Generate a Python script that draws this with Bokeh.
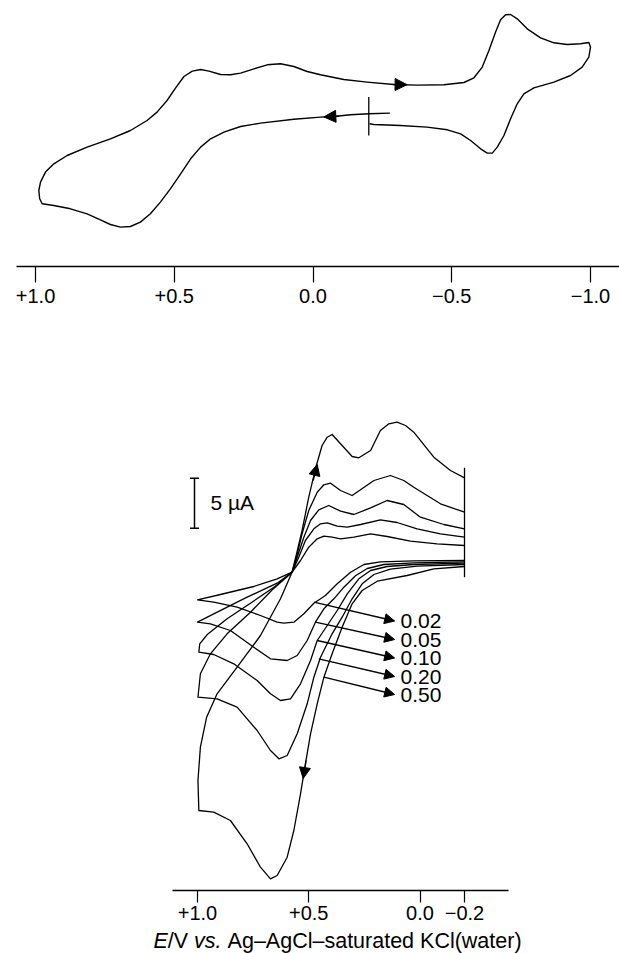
from bokeh.plotting import figure
from bokeh.models import Range1d, FixedTicker, Arrow, NormalHead, Label
from bokeh.layouts import column
from bokeh.embed import file_html
from bokeh.resources import INLINE

FONT = "Liberation Sans"

# ---------------- top voltammogram: potential (V) and current (arb. units)
TOP_E = [-0.277, -0.201, -0.135, -0.075, -0.027, 0.069, 0.189, 0.261, 0.321, 0.369,
         0.405, 0.441, 0.477, 0.514, 0.550, 0.586, 0.622, 0.658, 0.694, 0.730,
         0.766, 0.814, 0.874, 0.934, 0.976, 0.985, 0.988, 0.982, 0.964, 0.934,
         0.886, 0.814, 0.730, 0.658, 0.598, 0.562, 0.526, 0.495, 0.465, 0.435,
         0.405, 0.375, 0.333, 0.297, 0.261, 0.213, 0.165, 0.117, 0.069, 0.021,
         -0.027, -0.111, -0.195, -0.291, -0.375, -0.472, -0.544, -0.580, -0.610, -0.634,
         -0.658, -0.676, -0.694, -0.712, -0.736, -0.772, -0.820, -0.868, -0.916, -0.964,
         -0.994, -1.000, -0.994, -0.970, -0.928, -0.868, -0.796, -0.760, -0.736, -0.712,
         -0.688, -0.664, -0.646, -0.628, -0.604, -0.568, -0.532, -0.484, -0.411, -0.315,
         -0.219, -0.204]
TOP_I = [2.07, 2.00, 1.90, 1.73, 1.67, 1.45, 1.07, 0.73, 0.17, -0.50,
         -1.33, -2.50, -4.00, -5.50, -6.83, -8.00, -8.83, -9.27, -9.33, -9.07,
         -8.60, -8.00, -7.50, -7.17, -7.00, -6.50, -5.67, -4.83, -3.83, -3.00,
         -2.17, -1.33, -0.50, 0.33, 1.33, 2.17, 3.33, 4.60, 5.73, 6.27,
         6.43, 6.27, 5.93, 5.90, 6.07, 6.50, 6.90, 7.00, 6.73, 6.23,
         5.90, 5.43, 5.17, 4.93, 4.87, 4.90, 5.13, 5.60, 6.67, 8.33,
         10.17, 11.40, 11.90, 11.93, 11.50, 10.50, 9.60, 9.10, 8.93, 9.00,
         9.13, 8.67, 7.67, 6.67, 5.83, 5.17, 4.60, 4.00, 3.00, 1.50,
         -0.17, -1.33, -1.93, -1.93, -1.50, -0.67, 0.00, 0.40, 0.67, 0.83,
         0.93, 1.00]
TOP_TICKS = [1.0, 0.5, 0.0, -0.5, -1.0]
TOP_TICK_LABELS = ["+1.0", "+0.5", "0.0", "\u22120.5", "\u22121.0"]
TOP_START_E = -0.201

# ---------------- bottom voltammograms at several scan rates (V s-1), current in uA
SCAN_RATES = ["0.02", "0.05", "0.10", "0.20", "0.50"]
E_002 = [-0.200, 0.028, 0.178, 0.252, 0.312, 0.372, 0.425, 0.477, 0.522, 0.567,
         0.612, 0.642, 0.717, 0.822, 0.927, 1.000, 0.897, 0.747, 0.642, 0.575,
         0.537, 0.500, 0.462, 0.432, 0.395, 0.357, 0.297, 0.222, 0.148, 0.043,
         -0.077, -0.200]
I_002 = [0.30, 0.27, 0.17, -0.10, -0.87, -2.03, -3.20, -3.97, -5.03, -5.87,
         -5.97, -5.87, -5.20, -4.37, -3.87, -3.63, -3.10, -2.30, -1.53, -0.87,
         0.30, 1.63, 2.47, 2.73, 2.63, 2.47, 2.63, 2.97, 2.70, 2.23,
         1.97, 1.80]
E_005 = [-0.200, 0.028, 0.163, 0.237, 0.290, 0.342, 0.387, 0.432, 0.470, 0.507,
         0.552, 0.597, 0.672, 0.747, 0.852, 0.942, 1.000, 0.927, 0.777, 0.642,
         0.575, 0.545, 0.515, 0.477, 0.447, 0.417, 0.372, 0.327, 0.267, 0.178,
         0.103, 0.013, -0.092, -0.200]
I_005 = [0.17, 0.07, -0.10, -0.50, -1.23, -2.37, -3.53, -4.53, -5.87, -7.70,
         -9.20, -9.70, -9.53, -8.37, -6.70, -6.03, -5.87, -5.03, -3.37, -1.97,
         -0.87, 0.63, 2.30, 3.47, 3.97, 4.07, 3.73, 3.63, 3.90, 4.37,
         4.10, 3.47, 2.97, 2.63]
E_010 = [-0.200, 0.028, 0.148, 0.222, 0.275, 0.327, 0.372, 0.417, 0.462, 0.492,
         0.537, 0.582, 0.627, 0.672, 0.732, 0.837, 0.927, 0.994, 0.990, 0.956,
         0.867, 0.762, 0.650, 0.575, 0.552, 0.522, 0.492, 0.455, 0.410, 0.357,
         0.297, 0.222, 0.148, 0.073, -0.002, -0.107, -0.200]
I_010 = [0.03, -0.10, -0.30, -0.70, -1.53, -3.03, -4.70, -6.20, -7.70, -9.70,
         -12.03, -13.53, -13.70, -13.03, -11.70, -10.03, -9.10, -8.87, -8.03, -7.10,
         -5.53, -3.97, -2.27, -0.87, 0.63, 2.63, 4.30, 5.37, 5.80, 5.23,
         4.90, 5.57, 6.30, 5.90, 4.63, 3.90, 3.47]
E_020 = [-0.200, 0.013, 0.133, 0.207, 0.260, 0.305, 0.350, 0.395, 0.447, 0.477,
         0.507, 0.552, 0.597, 0.634, 0.672, 0.732, 0.822, 0.912, 0.998, 0.987,
         0.942, 0.867, 0.762, 0.664, 0.575, 0.555, 0.530, 0.500, 0.462, 0.432,
         0.402, 0.357, 0.305, 0.207, 0.133, 0.073, 0.028, -0.092, -0.200]
I_020 = [-0.10, -0.27, -0.57, -1.10, -2.03, -3.53, -5.37, -7.03, -9.37, -11.37,
         -14.03, -17.03, -19.20, -19.53, -18.70, -16.70, -14.37, -13.53, -13.37, -11.03,
         -9.03, -7.03, -4.87, -2.63, -0.87, 0.63, 2.97, 5.30, 7.13, 7.87,
         8.03, 7.30, 6.80, 8.30, 8.80, 8.30, 7.63, 5.97, 5.13]
E_050 = [-0.200, -0.062, 0.058, 0.192, 0.260, 0.305, 0.350, 0.395, 0.432, 0.462,
         0.492, 0.515, 0.537, 0.567, 0.597, 0.642, 0.672, 0.717, 0.777, 0.852,
         0.927, 0.994, 0.998, 0.987, 0.959, 0.912, 0.822, 0.717, 0.627, 0.575,
         0.555, 0.530, 0.500, 0.470, 0.440, 0.417, 0.395, 0.350, 0.305, 0.275,
         0.222, 0.178, 0.140, 0.103, 0.065, 0.028, -0.062, -0.137, -0.200]
I_050 = [-0.30, -0.53, -1.20, -1.77, -2.70, -4.03, -6.37, -9.03, -11.37, -14.03,
         -17.03, -20.03, -23.03, -26.70, -29.37, -31.20, -31.53, -30.37, -28.03, -25.70,
         -24.87, -24.70, -21.70, -18.37, -15.37, -13.03, -10.37, -7.20, -3.53, -0.87,
         0.97, 3.30, 6.63, 9.47, 11.80, 12.63, 12.90, 11.80, 10.70, 10.57,
         11.30, 13.30, 13.97, 14.13, 13.80, 13.13, 10.63, 9.30, 8.57]
BOT_TICKS = [1.0, 0.5, 0.0, -0.2]
BOT_TICK_LABELS = ["+1.0", "+0.5", "0.0", "\u22120.2"]
SCALE_UA = 5
SWITCH_E = -0.2

INK = "black"


def style_axis(ax, ticks, labels, tick_out, standoff):
    ax.ticker = FixedTicker(ticks=ticks)
    ax.major_label_overrides = dict(zip(ticks, labels))
    ax.major_tick_out = tick_out
    ax.major_tick_in = 0
    ax.minor_tick_out = 0
    ax.minor_tick_in = 0
    ax.axis_line_width = 1.6
    ax.axis_line_color = INK
    ax.major_tick_line_width = 1.2
    ax.major_tick_line_color = INK
    ax.major_label_text_font = FONT
    ax.major_label_text_font_size = "20px"
    ax.major_label_text_color = INK
    ax.major_label_standoff = standoff


def head(size=11):
    return NormalHead(size=size, fill_color=INK, line_color=INK, line_width=1)


# ---------------- top panel
p1 = figure(width=619, height=326, output_backend="svg", toolbar_location=None, title=None,
            x_range=Range1d(1.0685, -1.1045), y_range=Range1d(-13.27, 12.53),
            y_axis_location=None,
            min_border_left=16, min_border_right=0, min_border_top=8, min_border_bottom=60)
p1.grid.visible = False
p1.outline_line_color = None
style_axis(p1.xaxis[0], TOP_TICKS, TOP_TICK_LABELS, 16, 6)

p1.line(TOP_E, TOP_I, line_color=INK, line_width=1.4, line_join="round")
p1.segment(x0=[TOP_START_E], y0=[3.67], x1=[TOP_START_E], y1=[-0.17],
           line_color=INK, line_width=1.3)
p1.add_layout(Arrow(end=head(12), x_start=-0.290, y_start=4.93, x_end=-0.339, y_end=4.91,
                    line_color=INK, line_width=1.4))
p1.add_layout(Arrow(end=head(12), x_start=-0.093, y_start=1.76, x_end=-0.039, y_end=1.69,
                    line_color=INK, line_width=1.4))

# ---------------- bottom panel
xr2 = Range1d(1.8135, -0.8966)
p2 = figure(width=619, height=602, output_backend="svg", toolbar_location=None, title=None,
            x_range=xr2, y_range=Range1d(-32.7, 16.3),
            y_axis_location=None,
            min_border_left=16, min_border_right=0, min_border_top=74, min_border_bottom=38)
p2.grid.visible = False
p2.outline_line_color = None
style_axis(p2.xaxis[0], BOT_TICKS, BOT_TICK_LABELS, 12, 3)
p2.xaxis[0].bounds = (-0.3978, 1.1124)

curves = [(E_002, I_002), (E_005, I_005), (E_010, I_010), (E_020, I_020), (E_050, I_050)]
for e, i in curves:
    p2.line(e, i, line_color=INK, line_width=1.3, line_join="round")

# vertical marker at the switching/start potential
p2.segment(x0=[SWITCH_E], y0=[9.57], x1=[SWITCH_E], y1=[-1.37], line_color=INK, line_width=1.3)

# scale bar
bar_x = 1.0135
p2.segment(x0=[bar_x], y0=[3.53], x1=[bar_x], y1=[3.53 + SCALE_UA], line_color=INK, line_width=1.5)
p2.segment(x0=[1.034, 1.034], y0=[3.53, 3.53 + SCALE_UA], x1=[0.993, 0.993],
           y1=[3.53, 3.53 + SCALE_UA], line_color=INK, line_width=1.5)
p2.add_layout(Label(x=0.9416, y=6.1, text=f"{SCALE_UA} \u00b5A", text_font=FONT,
                    text_font_size="21px", text_baseline="middle", text_align="left",
                    text_color=INK))

# direction arrows along the fastest scan
p2.add_layout(Arrow(end=head(11), x_start=0.480, y_start=8.30, x_end=0.462, y_end=9.90,
                    line_color=INK, line_width=1.3))
p2.add_layout(Arrow(end=head(11), x_start=0.512, y_start=-19.7, x_end=0.525, y_end=-21.5,
                    line_color=INK, line_width=1.3))

# scan-rate labels with pointer arrows
arrow_start = [(0.477, -3.87), (0.470, -5.87), (0.462, -7.70), (0.455, -9.53), (0.432, -11.37)]
label_y = [-5.75, -7.60, -9.45, -11.30, -13.10]
for rate, (xs, ys), ly in zip(SCAN_RATES, arrow_start, label_y):
    p2.add_layout(Arrow(end=head(10), x_start=xs, y_start=ys, x_end=0.114, y_end=ly,
                        line_color=INK, line_width=1.3))
    p2.add_layout(Label(x=0.0876, y=ly, text=rate, text_font=FONT, text_font_size="21px",
                        text_baseline="middle", text_align="left", text_color=INK))

# ---------------- strip under the bottom panel for the axis title (italic parts)
p3 = figure(width=619, height=25, output_backend="svg", toolbar_location=None, title=None,
            x_range=xr2, y_range=Range1d(0, 25),
            x_axis_location=None, y_axis_location=None,
            min_border_left=16, min_border_right=0, min_border_top=0, min_border_bottom=0)
p3.grid.visible = False
p3.outline_line_color = None
for x, txt, st in [(1.1978, "E", "italic"), (1.1335, "/V", "normal"),
                   (1.0153, "vs.", "italic"),
                   (0.8647, "Ag\u2013AgCl\u2013saturated KCl(water)", "normal")]:
    p3.add_layout(Label(x=x, y=12.5, text=txt, text_font=FONT, text_font_size="21.5px",
                        text_font_style=st, text_baseline="middle", text_align="left",
                        text_color=INK))

layout = column(p1, p2, p3)
open("out.html", "w").write(file_html(layout, INLINE))
